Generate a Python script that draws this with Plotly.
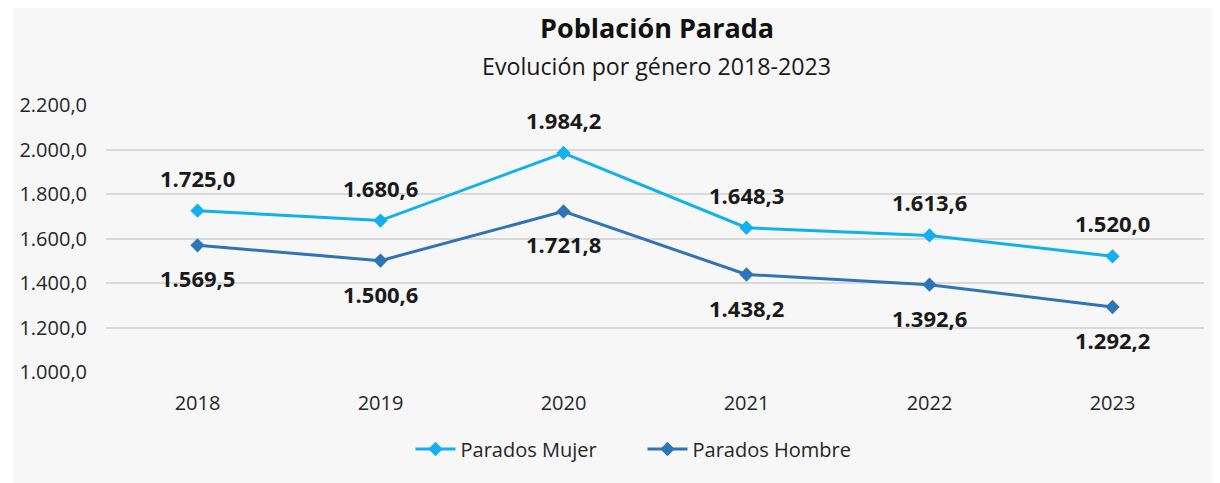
import plotly.graph_objects as go

# ---- data ----
years = ["2018", "2019", "2020", "2021", "2022", "2023"]
parados_mujer = [1725.0, 1680.6, 1984.2, 1648.3, 1613.6, 1520.0]
parados_hombre = [1569.5, 1500.6, 1721.8, 1438.2, 1392.6, 1292.2]
y_ticks = [1000, 1200, 1400, 1600, 1800, 2000, 2200]

title_text = "Población Parada"
subtitle_text = "Evolución por género 2018-2023"

COL_M = "#12b0ec"
COL_H = "#2f74b5"
FONT = "Open Sans"

# page body has an 8px margin: figure origin sits at page (8, 8)
OFF = 8
W, H = 1220 - OFF, 483 - OFF
PL, PR, PT, PB = 106, 1204, 105, 372   # plot area in page pixels
ML, MR, MT, MB = PL - OFF, W - (PR - OFF), PT - OFF, H - (PB - OFF)
PW = W - ML - MR
PH = H - MT - MB


def px_x(px):
    return (px - OFF - ML) / PW


def px_y(py):
    return (H - MB - (py - OFF)) / PH


def fmt(v):
    s = f"{v:,.1f}"
    return s.replace(",", "X").replace(".", ",").replace("X", ".")


fig = go.Figure()
fig.add_trace(go.Scatter(
    x=years, y=parados_mujer, name="Parados Mujer", mode="lines+markers",
    line=dict(color=COL_M, width=3),
    marker=dict(symbol="diamond", size=11, color=COL_M),
))
fig.add_trace(go.Scatter(
    x=years, y=parados_hombre, name="Parados Hombre", mode="lines+markers",
    line=dict(color=COL_H, width=3),
    marker=dict(symbol="diamond", size=11, color=COL_H),
))

LBL_FONT = dict(family=FONT, size=22, color="#1a1a1a", weight="bold")
annotations = []
for i, v in enumerate(parados_mujer):
    annotations.append(dict(x=i, y=v, xref="x", yref="y", text=fmt(v), showarrow=False,
                            yshift=33, font=LBL_FONT))
for i, v in enumerate(parados_hombre):
    annotations.append(dict(x=i, y=v, xref="x", yref="y", text=fmt(v), showarrow=False,
                            yshift=-33, font=LBL_FONT))

annotations.append(dict(x=px_x(657), y=px_y(28), xref="paper", yref="paper", text=f"<b>{title_text}</b>",
                        xanchor="center", yanchor="middle", showarrow=False,
                        font=dict(family=FONT, size=27, color="#111111")))
annotations.append(dict(x=px_x(656), y=px_y(66), xref="paper", yref="paper", text=subtitle_text,
                        xanchor="center", yanchor="middle", showarrow=False,
                        font=dict(family=FONT, size=23.2, color="#1a1a1a")))

shapes = [
    dict(type="rect", xref="paper", yref="paper", x0=px_x(13), x1=px_x(1220), y0=px_y(483), y1=px_y(8),
         fillcolor="#f7f7f7", line=dict(width=0), layer="below"),
]

fig.update_layout(
    width=W, height=H,
    margin=dict(l=ML, r=MR, t=MT, b=MB, autoexpand=False),
    paper_bgcolor="#ffffff",
    plot_bgcolor="rgba(0,0,0,0)",
    separators=",.",
    font=dict(family=FONT, size=20, color="#262626"),
    showlegend=True,
    legend=dict(orientation="h", x=px_x(642.5), xanchor="center", y=px_y(449), yanchor="middle",
                font=dict(family=FONT, size=20, color="#262626"), bgcolor="rgba(0,0,0,0)",
                itemwidth=40, entrywidth=177, traceorder="normal"),
    xaxis=dict(type="category", range=[-0.5, 5.5], autorange=False, showgrid=False, showline=False,
               zeroline=False, ticks="", tickfont=dict(family=FONT, size=20, color="#262626"),
               ticklabelstandoff=17, fixedrange=True),
    yaxis=dict(range=[1000, 2200], autorange=False, tickvals=y_ticks, tickformat=",.1f", showgrid=True,
               gridcolor="#d9d9d9", gridwidth=1.5, zeroline=False, showline=False,
               tickfont=dict(family=FONT, size=20, color="#262626"), ticks="", ticklen=0,
               ticklabelstandoff=18),
    annotations=annotations,
    shapes=shapes,
)

fig.write_html("out.html")
